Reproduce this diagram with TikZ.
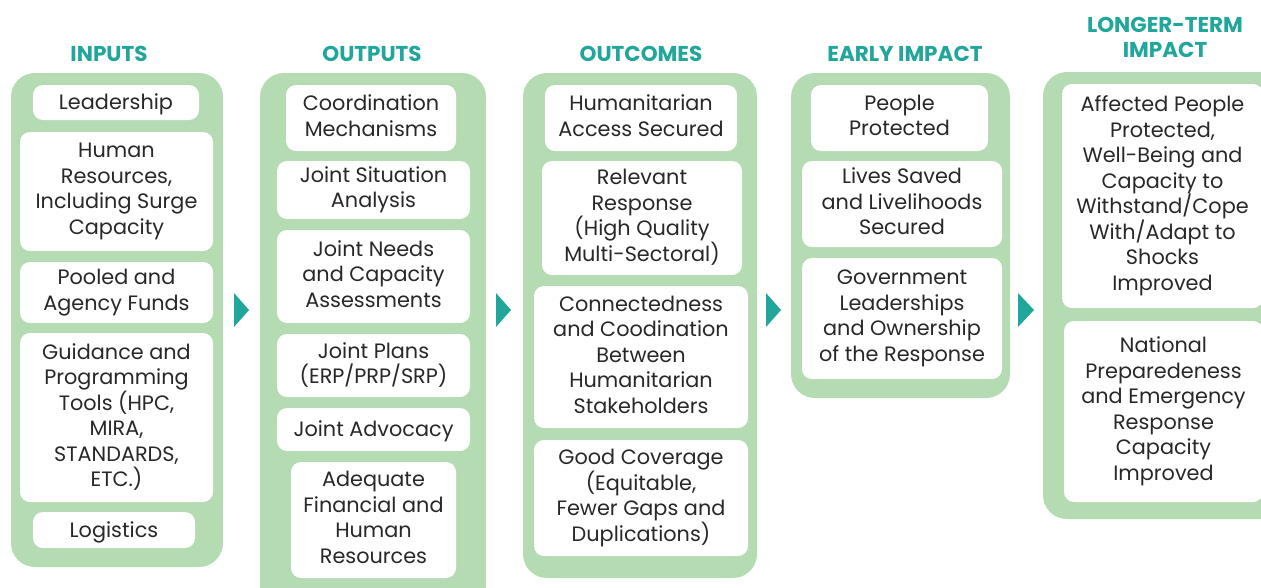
\documentclass[tikz,border=0pt]{standalone}
\usepackage{fontspec}
\setmainfont{Poppins}
\definecolor{panelgreen}{RGB}{181,219,178}
\definecolor{headteal}{RGB}{32,166,155}
\definecolor{bodytext}{RGB}{40,40,40}
\tikzset{
  panel/.style={fill=panelgreen, draw=none, rounded corners=24pt},
  wbox/.style={fill=white, draw=none, rounded corners=10pt, inner sep=0pt, align=center,
    text=bodytext, font=\fontsize{20.8}{25.5}\selectfont,
    execute at begin node={\rule{0pt}{19.6pt}},
    execute at end node={\rule[-5pt]{0pt}{5pt}}},
  head/.style={text=headteal, font=\fontsize{21.5}{25}\selectfont\bfseries, align=center, inner sep=0pt, anchor=base},
  tri/.style={fill=headteal, draw=none}
}
\begin{document}
\begin{tikzpicture}[x=1pt,y=-1pt]
\useasboundingbox (0,0) rectangle (1261,587);
\clip (0,0) rectangle (1261,587);
% headers
\node[head] (hIn) at (109,61) {INPUTS};
\node[head] (hOut) at (372,61) {OUTPUTS};
\node[head] (hOc) at (641,61) {OUTCOMES};
\node[head] (hEi) at (905,61) {EARLY IMPACT};
\node[head] (hLt) at (1165,32) {LONGER-TERM};
\node[head] (hLt2) at (1165,57) {IMPACT};
% panels
\path[panel] (11,73) rectangle (223,567);
\path[panel] (260,73) rectangle (486,610);
\path[panel] (523,73) rectangle (757,578);
\path[panel] (791,73) rectangle (1010,398);
\path[panel] (1043,72) rectangle (1300,519);
% arrows
\fill[tri] (234,293) -- (249,310) -- (234,327) -- cycle;
\fill[tri] (496,293) -- (511,310) -- (496,327) -- cycle;
\fill[tri] (766,293) -- (781,310) -- (766,327) -- cycle;
\fill[tri] (1018,293) -- (1034,310) -- (1018,327) -- cycle;
% inputs
\node[wbox, minimum width=166, minimum height=35] (i1) at (116,102.5) {Leadership};
\node[wbox, minimum width=193, minimum height=119] (i2) at (116.5,191.5) {Human\\Resources,\\Including Surge\\Capacity};
\node[wbox, minimum width=193, minimum height=61] (i3) at (116.5,292.5) {Pooled and\\Agency Funds};
\node[wbox, minimum width=193, minimum height=169] (i4) at (116.5,417.5) {Guidance and\\Programming\\Tools (HPC,\\MIRA,\\STANDARDS,\\ETC.)};
\node[wbox, minimum width=162, minimum height=36] (i5) at (114,530) {Logistics};
% outputs
\node[wbox, minimum width=170, minimum height=66] (o1) at (371,118) {Coordination\\Mechanisms};
\node[wbox, minimum width=193, minimum height=58] (o2) at (373.5,190) {Joint Situation\\Analysis};
\node[wbox, minimum width=193, minimum height=93] (o3) at (373.5,276.5) {Joint Needs\\and Capacity\\Assessments};
\node[wbox, minimum width=193, minimum height=63] (o4) at (373.5,365.5) {Joint Plans\\(ERP/PRP/SRP)};
\node[wbox, minimum width=193, minimum height=43] (o5) at (373.5,429.5) {Joint Advocacy};
\node[wbox, minimum width=165, minimum height=116] (o6) at (373.5,520) {Adequate\\Financial and\\Human\\Resources};
% outcomes
\node[wbox, minimum width=192, minimum height=66] (c1) at (641,118) {Humanitarian\\Access Secured};
\node[wbox, minimum width=200, minimum height=114] (c2) at (642,218) {Relevant\\Response\\(High Quality\\Multi-Sectoral)};
\node[wbox, minimum width=214, minimum height=142] (c3) at (641,357) {Connectedness\\and Coodination\\Between\\Humanitarian\\Stakeholders};
\node[wbox, minimum width=214, minimum height=116] (c4) at (641,498) {Good Coverage\\(Equitable,\\Fewer Gaps and\\Duplications)};
% early impact
\node[wbox, minimum width=177, minimum height=66] (e1) at (899.5,118) {People\\Protected};
\node[wbox, minimum width=200, minimum height=86] (e2) at (902,204) {Lives Saved\\and Livelihoods\\Secured};
\node[wbox, minimum width=200, minimum height=121] (e3) at (902,318.5) {Government\\Leaderships\\and Ownership\\of the Response};
% longer-term impact
\node[wbox, minimum width=201, minimum height=224] (l1) at (1162.5,196) {Affected People\\Protected,\\Well-Being and\\Capacity to\\Withstand/Cope\\With/Adapt to\\Shocks\\Improved};
\node[wbox, minimum width=199, minimum height=181] (l2) at (1163.5,411.5) {National\\Preparedeness\\and Emergency\\Response\\Capacity\\Improved};
\end{tikzpicture}
\end{document}
